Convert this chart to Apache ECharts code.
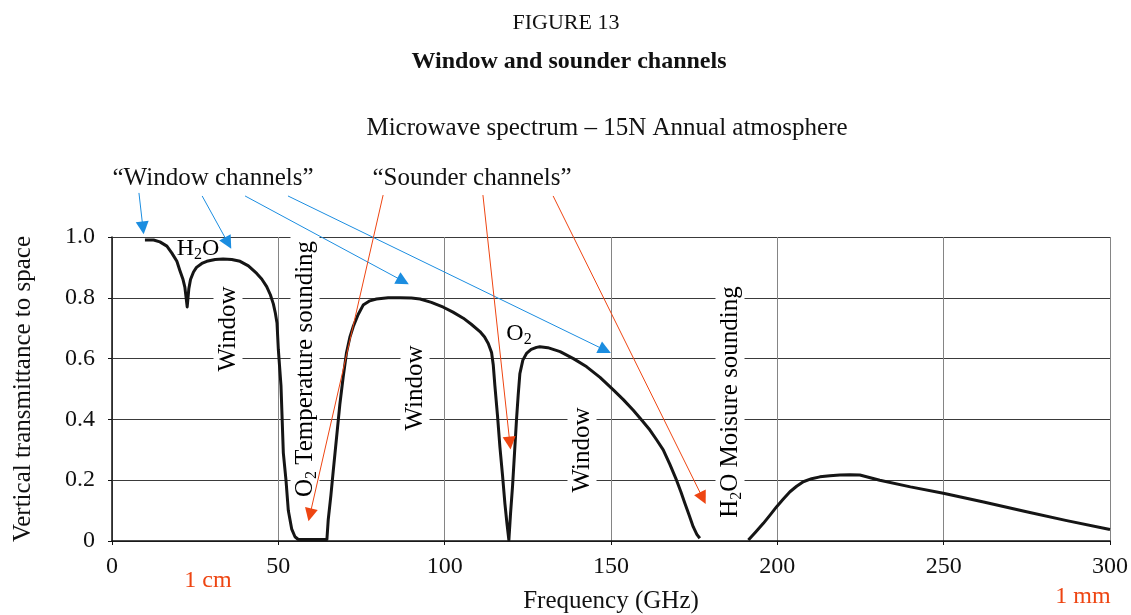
<!DOCTYPE html>
<html><head><meta charset="utf-8">
<script src="https://cdn.jsdelivr.net/npm/echarts@6/dist/echarts.min.js"></script>
<style>html,body{margin:0;padding:0;background:#fff}#c{width:1131px;height:615px}</style>
</head><body><div id="c"></div>
<script>
// Frequency (GHz) and vertical transmittance (null = gap)
const freq = [9.9,12.5,14.4,16.5,18,19.5,20.4,21.3,21.9,22.6,23.1,23.6,24.5,25.4,27,28.5,31,33.4,36,38.5,41,43.5,45,46.5,47.6,48.5,49.1,49.6,50,50.8,51.5,52.3,53,54,55,56,60,64.6,65,65.8,66.5,67.5,68.5,69.5,70.5,71.5,72.5,74,75.5,77.5,79.5,83,86.6,90,92.6,96,99.6,102.5,105.6,108,110.6,112,113.1,114.1,114.6,115.1,115.9,116.6,117.4,118.1,118.7,119.3,119.8,120.4,121,121.6,122.1,122.6,123.5,124.6,126,127.6,128.6,131,134.7,138.7,142.7,146.7,150.7,153.7,156.7,159.2,161.7,163.7,165.7,167.7,169.7,171,172.2,173.5,174.7,175.8,176.7,184,191.3,193.5,195.8,197.8,199.8,201.8,203.8,205.8,207.8,210.3,212.8,215.8,218.8,221.8,224.8,230.8,240,249.9,262,274.9,287,300];
const trans = [0.99,0.99,0.984,0.97,0.947,0.92,0.89,0.862,0.835,0.77,0.83,0.86,0.885,0.90,0.913,0.92,0.926,0.928,0.926,0.92,0.905,0.88,0.862,0.837,0.81,0.78,0.75,0.717,0.63,0.51,0.29,0.2,0.10,0.04,0.014,0.005,0.005,0.005,0.07,0.15,0.23,0.34,0.45,0.54,0.62,0.67,0.705,0.745,0.776,0.79,0.796,0.80,0.80,0.799,0.796,0.785,0.769,0.753,0.733,0.713,0.689,0.671,0.65,0.62,0.58,0.51,0.41,0.31,0.215,0.124,0.06,0.003,0.09,0.18,0.29,0.40,0.48,0.55,0.595,0.617,0.63,0.637,0.639,0.636,0.623,0.60,0.573,0.538,0.497,0.465,0.43,0.398,0.365,0.333,0.30,0.252,0.20,0.162,0.124,0.085,0.047,0.022,0.009,null,0.003,0.03,0.058,0.085,0.113,0.138,0.162,0.18,0.195,0.205,0.211,0.215,0.217,0.218,0.217,0.20,0.178,0.157,0.128,0.096,0.067,0.038];
const xTicks = [0,50,100,150,200,250,300];
const yTicks = [0,0.2,0.4,0.6,0.8,1.0];
// annotation arrows: [fromFreq, fromT, toFreq, toT]
const blueArrows = [[8.1,1.145,9.3,1.03],[27.1,1.135,34.9,0.98],[40,1.135,87.5,0.855],[52.9,1.135,148.2,0.628]];
const redArrows = [[81.5,1.138,59.5,0.086],[111.5,1.138,119.6,0.322],[132.6,1.135,177.6,0.141]];

const F = '"Liberation Serif","DejaVu Serif",serif';
const chart = echarts.init(document.getElementById('c'));
const lineData = freq.map((f,i)=> trans[i]===null ? [f,null] : [f,trans[i]]);
const toLines = arr => arr.map(a=>({coords:[[a[0],a[1]],[a[2],a[3]]]}));
const sub = {fontSize:16, fontFamily:F, color:'#111', verticalAlign:'bottom'};
const main = {fontSize:25, fontFamily:F, color:'#111', lineHeight:29};
const subH = {fontSize:16, fontFamily:F, color:'#111', verticalAlign:'bottom'};
const mainH = {fontSize:24, fontFamily:F, color:'#111', lineHeight:28};
function vtext(x,y,txt){
  return {type:'text', x:x, y:y, rotation:Math.PI/2, z:5, zlevel:0,
    style:{text:txt, rich:{a:main,s:sub}, align:'center', verticalAlign:'middle',
      backgroundColor:'#fff', padding:[0,6,0,6]}};
}
chart.setOption({
  animation:false,
  grid:{left:112,right:21,top:237,bottom:74,outerBoundsMode:'none',containLabel:false},
  xAxis:{type:'value',min:0,max:300,interval:50,
    name:'Frequency (GHz)',nameLocation:'middle',nameGap:48,
    nameTextStyle:{fontFamily:F,fontSize:25,color:'#111'},
    axisLine:{lineStyle:{color:'#111',width:1.5}},
    axisTick:{show:true,length:4,lineStyle:{color:'#111'}},
    axisLabel:{fontFamily:F,fontSize:24,color:'#111',margin:14,
      formatter:v=> xTicks.includes(v)? String(v):''},
    splitLine:{show:true,lineStyle:{color:'#858585',width:1}}},
  yAxis:{type:'value',min:0,max:1,interval:0.2,
    name:'Vertical transmittance to space',nameLocation:'middle',nameGap:76,
    nameTextStyle:{fontFamily:F,fontSize:25,color:'#111'},
    axisLine:{show:true,lineStyle:{color:'#111',width:1.5}},
    axisTick:{show:true,length:4,lineStyle:{color:'#111'}},
    axisLabel:{fontFamily:F,fontSize:24,color:'#111',margin:17,
      formatter:v=>{const t=yTicks.find(k=>Math.abs(k-v)<1e-6); return t===undefined?'':(t===0?'0':t.toFixed(1));}},
    splitLine:{show:true,lineStyle:{color:'#3a3a3a',width:1}}},
  series:[
    {type:'line',data:lineData,showSymbol:false,connectNulls:false,clip:false,z:10,
      lineStyle:{color:'#151515',width:3,join:'round'}},
    {type:'lines',coordinateSystem:'cartesian2d',clip:false,z:20,data:toLines(blueArrows),
      symbol:['none','triangle'],symbolSize:[15,13],lineStyle:{color:'#1b8de0',width:1,opacity:1}},
    {type:'lines',coordinateSystem:'cartesian2d',clip:false,z:20,data:toLines(redArrows),
      symbol:['none','triangle'],symbolSize:[15,13],lineStyle:{color:'#ee4512',width:1,opacity:1}}
  ],
  graphic:[
    {type:'text',x:566,y:23,style:{text:'FIGURE 13',font:'22px '+F,fill:'#111',align:'center',verticalAlign:'middle'}},
    {type:'text',x:569,y:62,style:{text:'Window and sounder channels',font:'bold 24px '+F,fill:'#111',align:'center',verticalAlign:'middle'}},
    {type:'text',x:607,y:128,style:{text:'Microwave spectrum – 15N Annual atmosphere',font:'25px '+F,fill:'#111',align:'center',verticalAlign:'middle'}},
    {type:'text',x:213,y:178,style:{text:'“Window channels”',font:'25px '+F,fill:'#111',align:'center',verticalAlign:'middle'}},
    {type:'text',x:472,y:178,style:{text:'“Sounder channels”',font:'25px '+F,fill:'#111',align:'center',verticalAlign:'middle'}},
    {type:'text',x:198,y:249,z:30,style:{text:'{a|H}{s|2}{a|O}',rich:{a:mainH,s:subH},align:'center',verticalAlign:'middle'}},
    {type:'text',x:519,y:334,z:30,style:{text:'{a|O}{s|2}',rich:{a:mainH,s:subH},align:'center',verticalAlign:'middle'}},
    vtext(228,329,'{a|Window}'),
    vtext(305,369,'{a|O}{s|2}{a| Temperature sounding}'),
    vtext(415,388,'{a|Window}'),
    vtext(582,450,'{a|Window}'),
    vtext(730,402,'{a|H}{s|2}{a|O Moisure sounding}'),
    {type:'text',x:208,y:581,style:{text:'1 cm',font:'24px '+F,fill:'#ee4512',align:'center',verticalAlign:'middle'}},
    {type:'text',x:1083,y:597,style:{text:'1 mm',font:'24px '+F,fill:'#ee4512',align:'center',verticalAlign:'middle'}}
  ]
});
</script></body></html>
